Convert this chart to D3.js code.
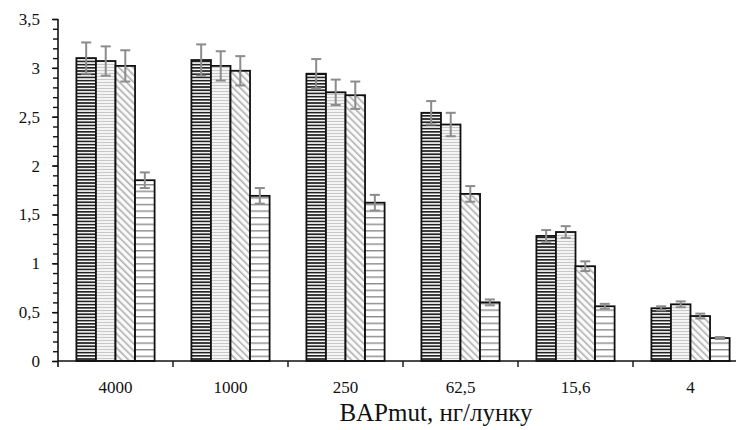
<!DOCTYPE html>
<html>
<head>
<meta charset="utf-8">
<script src="https://cdn.jsdelivr.net/npm/d3@7"></script>
<style>
  body { margin: 0; background: #fff; }
  svg text { font-family: "Liberation Serif", "DejaVu Serif", serif !important; fill: #111; }
</style>
</head>
<body>
<div id="chart"></div>
<script>
// doses on the x axis
var categories = ["4000", "1000", "250", "62,5", "15,6", "4"];
var seriesNames = ["s1", "s2", "s3", "s4"];

// mean values per series (one per category)
var s1 = [3.10, 3.08, 2.94, 2.54, 1.28, 0.54];
var s2 = [3.07, 3.02, 2.75, 2.42, 1.32, 0.58];
var s3 = [3.02, 2.97, 2.72, 1.71, 0.97, 0.46];
var s4 = [1.85, 1.69, 1.62, 0.60, 0.56, 0.235];

// error (+/-) per series
var e1 = [0.16, 0.16, 0.15, 0.12, 0.06, 0.02];
var e2 = [0.15, 0.15, 0.13, 0.12, 0.06, 0.03];
var e3 = [0.16, 0.15, 0.14, 0.08, 0.05, 0.025];
var e4 = [0.08, 0.08, 0.08, 0.03, 0.025, 0.01];

var yTicks = [0, 0.5, 1, 1.5, 2, 2.5, 3, 3.5];
var yTickLabels = ["0", "0,5", "1", "1,5", "2", "2,5", "3", "3,5"];
var xTitle = "BAPmut, нг/лунку";

var values = [s1, s2, s3, s4];
var errors = [e1, e2, e3, e4];

var width = 736, height = 430;
var margin = {top: 19, right: -12, bottom: 69, left: 58};
var innerW = width - margin.left - margin.right,
    innerH = height - margin.top - margin.bottom;

var svg = d3.select("#chart").append("svg")
    .attr("width", width)
    .attr("height", height);

// fill patterns
var defs = svg.append("defs");
var p1 = defs.append("pattern").attr("id", "p1").attr("patternUnits", "userSpaceOnUse")
    .attr("width", 6).attr("height", 3.2);
p1.append("rect").attr("width", 6).attr("height", 3.2).attr("fill", "#fff");
p1.append("rect").attr("y", 0).attr("width", 6).attr("height", 1.7).attr("fill", "#222");

var p2 = defs.append("pattern").attr("id", "p2").attr("patternUnits", "userSpaceOnUse")
    .attr("width", 6).attr("height", 3);
p2.append("rect").attr("width", 6).attr("height", 3).attr("fill", "#f4f4f4");
p2.append("rect").attr("y", 0).attr("width", 6).attr("height", 1).attr("fill", "#c8c8c8");

var p3 = defs.append("pattern").attr("id", "p3").attr("patternUnits", "userSpaceOnUse")
    .attr("width", 5).attr("height", 5).attr("patternTransform", "rotate(-45)");
p3.append("rect").attr("width", 5).attr("height", 5).attr("fill", "#fafafa");
p3.append("rect").attr("x", 0).attr("width", 1.6).attr("height", 5).attr("fill", "#b0b0b0");

var p4 = defs.append("pattern").attr("id", "p4").attr("patternUnits", "userSpaceOnUse")
    .attr("width", 6).attr("height", 6.6);
p4.append("rect").attr("width", 6).attr("height", 6.6).attr("fill", "#fff");
p4.append("rect").attr("y", 0).attr("width", 6).attr("height", 1.4).attr("fill", "#8a8a8a");

var fills = ["url(#p1)", "url(#p2)", "url(#p3)", "url(#p4)"];

var g = svg.append("g").attr("transform", "translate(" + margin.left + "," + margin.top + ")");

var x0 = d3.scaleBand().domain(categories).range([0, 690]).paddingInner(0.32).paddingOuter(0.16);
var x1 = d3.scaleBand().domain(seriesNames).range([0, x0.bandwidth()]);
var y = d3.scaleLinear().domain([0, 3.5]).range([innerH, 0]);

// bars
var groups = g.selectAll(".grp").data(categories).enter().append("g")
    .attr("transform", function(d) { return "translate(" + x0(d) + ",0)"; });

groups.selectAll("rect").data(function(d, i) {
        return seriesNames.map(function(s, k) { return {s: s, k: k, v: values[k][i], e: errors[k][i]}; });
    }).enter().append("rect")
    .attr("x", function(d) { return x1(d.s); })
    .attr("y", function(d) { return y(d.v); })
    .attr("width", x1.bandwidth())
    .attr("height", function(d) { return innerH - y(d.v); })
    .attr("fill", function(d) { return fills[d.k]; })
    .attr("stroke", "#111")
    .attr("stroke-width", 1.8);

// error bars
var eb = groups.selectAll(".err").data(function(d, i) {
        return seriesNames.map(function(s, k) { return {s: s, v: values[k][i], e: errors[k][i]}; });
    }).enter().append("g").attr("class", "err")
    .attr("stroke", "#8c8c8c").attr("stroke-width", 2);
eb.append("line")
    .attr("x1", function(d) { return x1(d.s) + x1.bandwidth() / 2; })
    .attr("x2", function(d) { return x1(d.s) + x1.bandwidth() / 2; })
    .attr("y1", function(d) { return y(d.v + d.e); })
    .attr("y2", function(d) { return y(d.v - d.e); });
eb.append("line")
    .attr("x1", function(d) { return x1(d.s) + x1.bandwidth() / 2 - 5; })
    .attr("x2", function(d) { return x1(d.s) + x1.bandwidth() / 2 + 5; })
    .attr("y1", function(d) { return y(d.v + d.e); })
    .attr("y2", function(d) { return y(d.v + d.e); });
eb.append("line")
    .attr("x1", function(d) { return x1(d.s) + x1.bandwidth() / 2 - 5; })
    .attr("x2", function(d) { return x1(d.s) + x1.bandwidth() / 2 + 5; })
    .attr("y1", function(d) { return y(d.v - d.e); })
    .attr("y2", function(d) { return y(d.v - d.e); });

// y axis: minor ticks then major ticks with labels
var yMinor = d3.axisLeft(y).tickValues(d3.range(0, 3.51, 0.1)).tickSize(5).tickFormat("");
g.append("g").attr("class", "y minor").call(yMinor)
    .call(function(s) { s.select(".domain").remove(); })
    .selectAll("line").attr("stroke", "#111").attr("stroke-width", 1.4);

var yAxis = d3.axisLeft(y).tickValues(yTicks).tickSize(6).tickPadding(12)
    .tickFormat(function(d, i) { return yTickLabels[i]; });
var ya = g.append("g").attr("class", "y axis").call(yAxis)
    .attr("font-family", "Liberation Serif").attr("font-size", 17);
ya.select(".domain").remove();
ya.selectAll("line").attr("stroke", "#111").attr("stroke-width", 1.4);
ya.selectAll("text").attr("fill", "#111");

// y axis line extends a bit under the x axis
g.append("line").attr("x1", 0).attr("x2", 0).attr("y1", 0).attr("y2", innerH + 6)
    .attr("stroke", "#111").attr("stroke-width", 1.6);

// x axis
g.append("line").attr("x1", 0).attr("x2", innerW).attr("y1", innerH).attr("y2", innerH)
    .attr("stroke", "#111").attr("stroke-width", 1.6);
var step = x0.step();
g.selectAll(".xt").data(categories.slice(1)).enter().append("line")
    .attr("x1", function(d) { return x0(d) - step * x0.paddingInner() / 2; })
    .attr("x2", function(d) { return x0(d) - step * x0.paddingInner() / 2; })
    .attr("y1", innerH).attr("y2", innerH + 6)
    .attr("stroke", "#111").attr("stroke-width", 1.4);

g.selectAll(".xl").data(categories).enter().append("text")
    .attr("x", function(d) { return x0(d) + x0.bandwidth() / 2; })
    .attr("y", innerH + 32)
    .attr("text-anchor", "middle")
    .attr("font-size", 17)
    .text(function(d) { return d; });

svg.append("text")
    .attr("x", 436).attr("y", 421)
    .attr("text-anchor", "middle")
    .attr("font-size", 25)
    .text(xTitle);
</script>
</body>
</html>
